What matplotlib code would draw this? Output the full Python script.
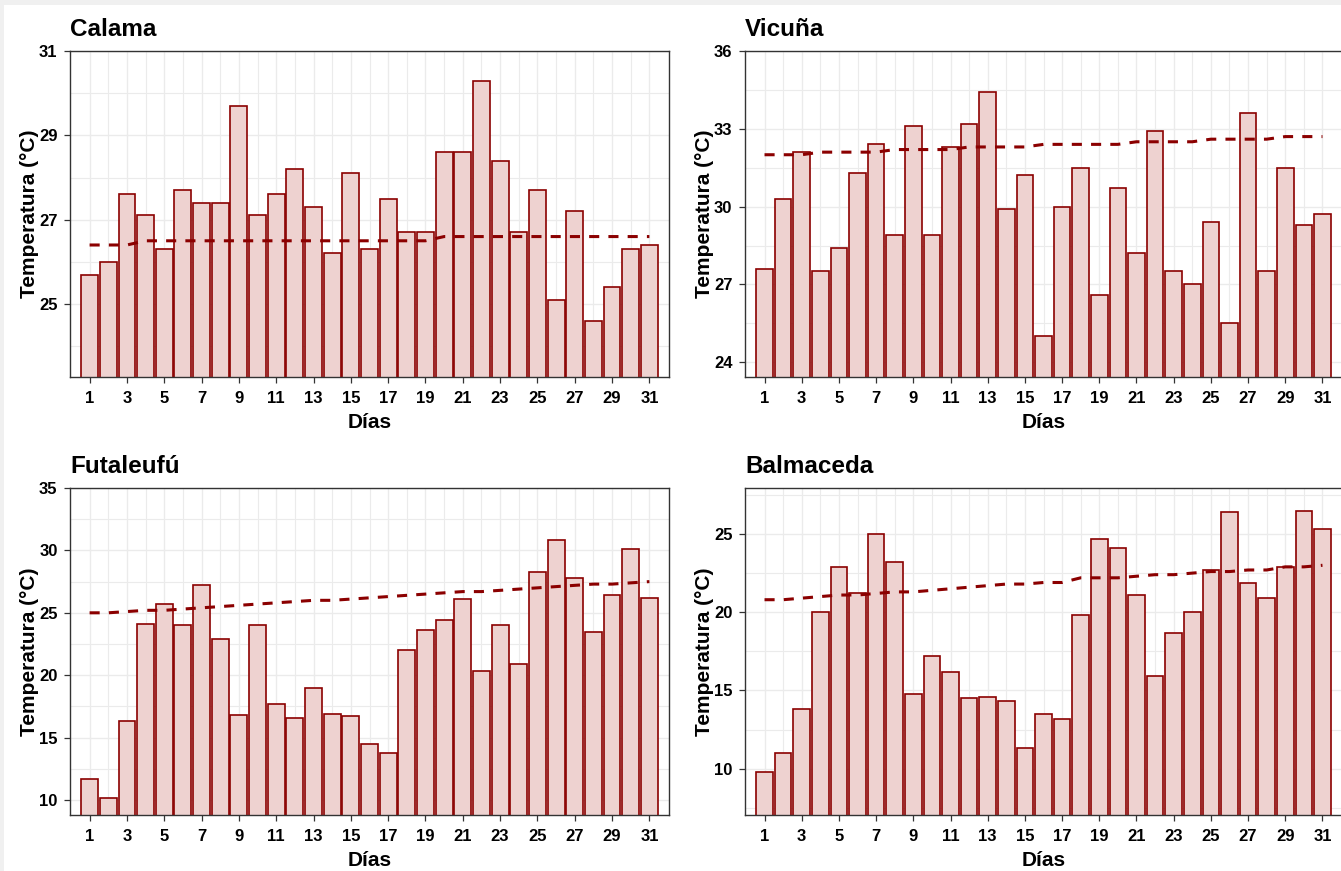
import numpy as np
import matplotlib
matplotlib.use("Agg")
import matplotlib.pyplot as plt
from matplotlib.patches import Rectangle
from matplotlib.ticker import MultipleLocator, FixedLocator

plt.rcParams['font.family'] = ['Liberation Sans', 'DejaVu Sans']

dias = np.arange(1, 32)

# temperaturas maximas diarias
calama = [25.7, 26.0, 27.6, 27.1, 26.3, 27.7, 27.4, 27.4, 29.7, 27.1,
          27.6, 28.2, 27.3, 26.2, 28.1, 26.3, 27.5, 26.7, 26.7, 28.6,
          28.6, 30.3, 28.4, 26.7, 27.7, 25.1, 27.2, 24.6, 25.4, 26.3, 26.4]
calama_tend = [26.4, 26.4, 26.4, 26.5, 26.5, 26.5, 26.5, 26.5, 26.5, 26.5,
               26.5, 26.5, 26.5, 26.5, 26.5, 26.5, 26.5, 26.5, 26.5, 26.6,
               26.6, 26.6, 26.6, 26.6, 26.6, 26.6, 26.6, 26.6, 26.6, 26.6, 26.6]

vicuna = [27.6, 30.3, 32.1, 27.5, 28.4, 31.3, 32.4, 28.9, 33.1, 28.9,
          32.3, 33.2, 34.4, 29.9, 31.2, 25.0, 30.0, 31.5, 26.6, 30.7,
          28.2, 32.9, 27.5, 27.0, 29.4, 25.5, 33.6, 27.5, 31.5, 29.3, 29.7]
vicuna_tend = [32.0, 32.0, 32.0, 32.1, 32.1, 32.1, 32.1, 32.2, 32.2, 32.2,
               32.2, 32.3, 32.3, 32.3, 32.3, 32.4, 32.4, 32.4, 32.4, 32.4,
               32.5, 32.5, 32.5, 32.5, 32.6, 32.6, 32.6, 32.6, 32.7, 32.7, 32.7]

futaleufu = [11.7, 10.2, 16.3, 24.1, 25.7, 24.0, 27.2, 22.9, 16.8, 24.0,
             17.7, 16.6, 19.0, 16.9, 16.7, 14.5, 13.8, 22.0, 23.6, 24.4,
             26.1, 20.3, 24.0, 20.9, 28.3, 30.8, 27.8, 23.5, 26.4, 30.1, 26.2]
futaleufu_tend = [25.0, 25.0, 25.1, 25.2, 25.2, 25.3, 25.4, 25.5, 25.6, 25.7,
                  25.8, 25.9, 26.0, 26.0, 26.1, 26.2, 26.3, 26.4, 26.5, 26.6,
                  26.7, 26.7, 26.8, 26.9, 27.0, 27.1, 27.2, 27.3, 27.3, 27.4, 27.5]

balmaceda = [9.8, 11.0, 13.8, 20.0, 22.9, 21.2, 25.0, 23.2, 14.8, 17.2,
             16.2, 14.5, 14.6, 14.3, 11.3, 13.5, 13.2, 19.8, 24.7, 24.1,
             21.1, 15.9, 18.7, 20.0, 22.7, 26.4, 21.9, 20.9, 22.9, 26.5, 25.3]
balmaceda_tend = [20.8, 20.8, 20.9, 21.0, 21.1, 21.1, 21.2, 21.3, 21.3, 21.4,
                  21.5, 21.6, 21.7, 21.8, 21.8, 21.9, 21.9, 22.2, 22.2, 22.2,
                  22.3, 22.4, 22.4, 22.5, 22.6, 22.6, 22.7, 22.7, 22.9, 22.9, 23.0]

W, H = 1341, 871
fig = plt.figure(figsize=(W / 100, H / 100), dpi=100)
fig.patch.set_facecolor('white')

# borde gris de la captura
fig.add_artist(Rectangle((0, 1 - 5 / H), 1, 5 / H, transform=fig.transFigure,
                         facecolor='#f0f0f0', edgecolor='none', zorder=-10))
fig.add_artist(Rectangle((0, 0), 4 / W, 1, transform=fig.transFigure,
                         facecolor='#f0f0f0', edgecolor='none', zorder=-10))


def px_axes(left, top, right, bottom):
    return fig.add_axes([left / W, 1 - bottom / H, (right - left) / W, (bottom - top) / H])


paneles = [
    ("Calama", calama, calama_tend, (70, 51, 669, 377), (23.27, 31), [25, 27, 29, 31], 1),
    ("Vicuña", vicuna, vicuna_tend, (745, 51, 1342, 377), (23.43, 36), [24, 27, 30, 33, 36], 1.5),
    ("Futaleufú", futaleufu, futaleufu_tend, (70, 488, 669, 815), (8.8, 35), [10, 15, 20, 25, 30, 35], 2.5),
    ("Balmaceda", balmaceda, balmaceda_tend, (745, 488, 1342, 815), (7.04, 27.94), [10, 15, 20, 25], 2.5),
]

for nombre, valores, tend, caja, ylim, yticks, ymenor in paneles:
    ax = px_axes(*caja)
    ax.set_axisbelow(True)
    ax.bar(dias, valores, width=0.9, color='#eed2d0', edgecolor='#8b0000',
           linewidth=1.2, zorder=2)
    ax.plot(dias, tend, color='#8b0000', linewidth=2.2,
            linestyle=(0, (3.3, 3.0)), zorder=3)

    ax.set_xlim(-0.05, 32.05)
    ax.set_ylim(*ylim)
    ax.set_xticks(np.arange(1, 32, 2))
    ax.xaxis.set_minor_locator(FixedLocator(np.arange(2, 32, 2)))
    ax.set_yticks(yticks)
    ax.yaxis.set_minor_locator(MultipleLocator(ymenor))
    ax.grid(which='major', color='#ebebeb', linewidth=1.0)
    ax.grid(which='minor', color='#ebebeb', linewidth=0.8)
    ax.tick_params(which='minor', length=0)
    ax.tick_params(which='major', length=4, width=0.9, color='#333333',
                   labelsize=12, labelcolor='black')
    ax.tick_params(axis='x', pad=6)
    ax.tick_params(axis='y', pad=5)
    for lab in ax.get_xticklabels() + ax.get_yticklabels():
        lab.set_fontweight('bold')
    for s in ax.spines.values():
        s.set_color('#333333')
        s.set_linewidth(1.0)

    ax.set_title(nombre, loc='left', fontsize=17.5, fontweight='bold', pad=11)
    ax.set_xlabel('Días', fontsize=15, fontweight='bold', labelpad=5)
    ax.set_ylabel('Temperatura (°C)', fontsize=15, fontweight='bold', labelpad=0)

plt.savefig('out.png', dpi=100)
